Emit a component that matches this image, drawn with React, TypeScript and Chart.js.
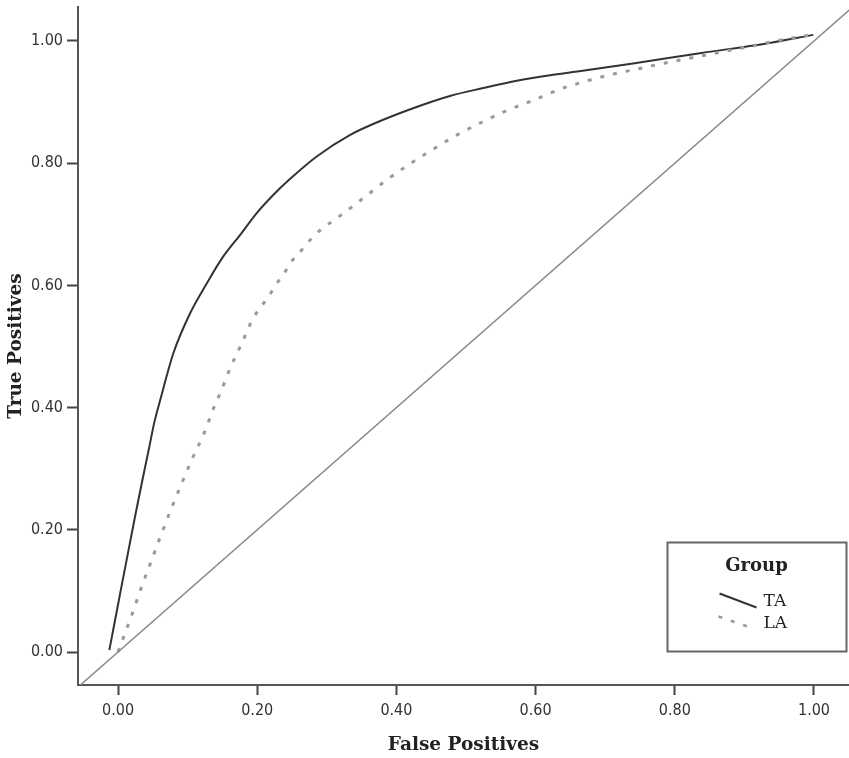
import React, { useEffect, useRef } from "react";
import { Chart, registerables } from "chart.js";

Chart.register(...registerables);

const TICKS = [0, 0.2, 0.4, 0.6, 0.8, 1.0];

const TA_X = [-0.0125, 0.0068, 0.0254, 0.035, 0.045, 0.052, 0.062, 0.07, 0.0795, 0.1034, 0.1274, 0.151, 0.175, 0.199, 0.223, 0.245, 0.2855, 0.333, 0.381, 0.429, 0.477, 0.525, 0.573, 0.621, 0.66, 0.74, 0.836, 0.932, 0.999];
const TA_Y = [0.003, 0.118, 0.227, 0.281, 0.336, 0.375, 0.418, 0.452, 0.489, 0.554, 0.603, 0.647, 0.682, 0.718, 0.748, 0.772, 0.811, 0.846, 0.871, 0.892, 0.91, 0.923, 0.935, 0.944, 0.95, 0.963, 0.98, 0.996, 1.01];

const LA_X = [0.0, 0.0068, 0.0205, 0.034, 0.0484, 0.0618, 0.0757, 0.0915, 0.107, 0.124, 0.138, 0.1466, 0.161, 0.1777, 0.194, 0.2055, 0.2174, 0.228, 0.24, 0.251, 0.264, 0.277, 0.291, 0.307, 0.324, 0.355, 0.386, 0.4195, 0.453, 0.4866, 0.5226, 0.5585, 0.597, 0.635, 0.673, 0.712, 0.75, 0.788, 0.8266, 0.865, 0.903, 0.9415, 0.98, 0.999];
const LA_Y = [0.0, 0.0208, 0.063, 0.107, 0.1506, 0.1915, 0.2324, 0.276, 0.317, 0.359, 0.401, 0.423, 0.464, 0.505, 0.546, 0.565, 0.584, 0.603, 0.622, 0.6416, 0.658, 0.6755, 0.691, 0.704, 0.718, 0.745, 0.7725, 0.799, 0.823, 0.846, 0.867, 0.886, 0.903, 0.921, 0.9345, 0.946, 0.955, 0.9645, 0.973, 0.9815, 0.99, 0.999, 1.007, 1.01];

const DIAG = [-0.1, 1.1];

const SERIES_NAMES = ["TA", "LA"];
const LEGEND_TITLE = "Group";
const X_TITLE = "False Positives";
const Y_TITLE = "True Positives";

const TICK_FONT = "DejaVu Sans Condensed";
const SERIF = "'DejaVu Serif', 'Liberation Serif', serif";

const TA_COLOR = "#333333";
const LA_COLOR = "#9a9a9a";

const zip = (xs: number[], ys: number[]) => xs.map((x, i) => ({ x, y: ys[i] }));

const overlayPlugin = {
  id: "overlay",
  afterDraw(chart: any) {
    const { ctx, chartArea, height } = chart;
    ctx.save();
    // axis titles
    ctx.fillStyle = "#222";
    ctx.font = `bold 18.5px ${SERIF}`;
    ctx.textAlign = "center";
    ctx.textBaseline = "middle";
    ctx.fillText(X_TITLE, (chartArea.left + chartArea.right) / 2, height - 13);
    ctx.save();
    ctx.translate(16, (chartArea.top + chartArea.bottom) / 2);
    ctx.rotate(-Math.PI / 2);
    ctx.fillText(Y_TITLE, 0, 0);
    ctx.restore();

    // legend box
    const bw = 179;
    const bh = 109;
    const bx = chartArea.right - 2.5 - bw;
    const by = chartArea.bottom - 33.5 - bh;
    ctx.strokeStyle = "#666";
    ctx.lineWidth = 2;
    ctx.strokeRect(bx, by, bw, bh);
    ctx.fillStyle = "#222";
    ctx.font = `bold 18px ${SERIF}`;
    ctx.fillText(LEGEND_TITLE, bx + 89, by + 24);

    // TA sample
    ctx.strokeStyle = TA_COLOR;
    ctx.lineWidth = 2;
    ctx.setLineDash([]);
    ctx.beginPath();
    ctx.moveTo(bx + 52, by + 51);
    ctx.lineTo(bx + 89, by + 65);
    ctx.stroke();
    // LA sample
    ctx.strokeStyle = LA_COLOR;
    ctx.lineWidth = 2.5;
    ctx.setLineDash([4, 9]);
    ctx.beginPath();
    ctx.moveTo(bx + 51, by + 74);
    ctx.lineTo(bx + 83, by + 85);
    ctx.stroke();
    ctx.setLineDash([]);

    ctx.fillStyle = "#222";
    ctx.font = `17px ${SERIF}`;
    ctx.textAlign = "left";
    ctx.fillText(SERIES_NAMES[0], bx + 96, by + 59);
    ctx.fillText(SERIES_NAMES[1], bx + 96, by + 81);
    ctx.restore();
  },
};

export default function App() {
  const ref = useRef<HTMLCanvasElement | null>(null);

  useEffect(() => {
    document.body.style.margin = "0";
    const canvas = ref.current;
    if (!canvas) return;
    const chart = new Chart(canvas, {
      type: "scatter",
      data: {
        datasets: [
          {
            label: "diag",
            data: zip(DIAG, DIAG),
            showLine: true,
            borderColor: "#8a8a8a",
            borderWidth: 1.5,
            pointRadius: 0,
          },
          {
            label: SERIES_NAMES[1],
            data: zip(LA_X, LA_Y),
            showLine: true,
            borderColor: LA_COLOR,
            borderWidth: 3,
            borderDash: [4, 9],
            borderCapStyle: "butt",
            pointRadius: 0,
            cubicInterpolationMode: "monotone",
          },
          {
            label: SERIES_NAMES[0],
            data: zip(TA_X, TA_Y),
            showLine: true,
            borderColor: TA_COLOR,
            borderWidth: 2,
            pointRadius: 0,
            cubicInterpolationMode: "monotone",
          },
        ],
      },
      options: {
        responsive: false,
        animation: false,
        devicePixelRatio: 1,
        layout: { padding: { top: 7, right: 0, left: 0, bottom: 0 } },
        plugins: {
          legend: { display: false },
          tooltip: { enabled: false },
        },
        scales: {
          x: {
            type: "linear",
            min: -0.0575,
            max: 1.0503,
            afterBuildTicks: (s: any) => {
              s.ticks = TICKS.map((v) => ({ value: v }));
            },
            afterFit: (s: any) => {
              s.height = 73;
              s.paddingLeft = 0;
              s.paddingRight = 0;
            },
            grid: {
              drawOnChartArea: false,
              drawTicks: true,
              tickLength: 10,
              tickColor: "#444",
              tickWidth: 2,
            },
            border: { display: true, color: "#555", width: 2 },
            ticks: {
              color: "#333",
              font: { family: TICK_FONT, size: 16 },
              padding: 6,
              maxRotation: 0,
              autoSkip: false,
              callback: (v: any) => Number(v).toFixed(2),
            },
          },
          y: {
            type: "linear",
            min: -0.054,
            max: 1.0556,
            afterBuildTicks: (s: any) => {
              s.ticks = TICKS.map((v) => ({ value: v }));
            },
            afterFit: (s: any) => {
              s.width = 78;
              s.paddingTop = 0;
              s.paddingBottom = 0;
            },
            grid: {
              drawOnChartArea: false,
              drawTicks: true,
              tickLength: 11,
              tickColor: "#444",
              tickWidth: 2,
            },
            border: { display: true, color: "#555", width: 2 },
            ticks: {
              color: "#333",
              font: { family: TICK_FONT, size: 16 },
              padding: 4,
              autoSkip: false,
              callback: (v: any) => Number(v).toFixed(2),
            },
          },
        },
      },
      plugins: [overlayPlugin],
    } as any);
    return () => chart.destroy();
  }, []);

  return (
    <div style={{ width: 849, height: 758 }}>
      <canvas ref={ref} width={849} height={758} style={{ display: "block" }} />
    </div>
  );
}
